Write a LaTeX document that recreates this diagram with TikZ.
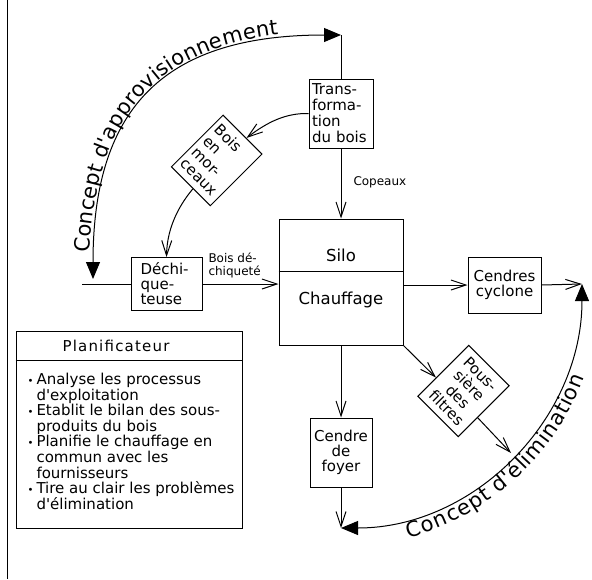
\documentclass[tikz,border=0pt]{standalone}
\usepackage{fontspec}
\setmainfont{DejaVu Sans}[Ligatures=TeXOff]
\usetikzlibrary{arrows.meta,decorations.text}
\newcommand\myfs[2]{\fontsize{#1}{#2}\selectfont}
\newcommand\mybul{\makebox[9pt][l]{\fontsize{10}{10}\selectfont •}}
\begin{document}
\begin{tikzpicture}[x=1pt,y=-1pt,line width=1pt,
  box/.style={draw,rectangle,inner sep=0pt},
  open/.style={-{Straight Barb[length=15pt,width=10pt]}},
  bothfill/.style={{Triangle[length=17pt,width=14pt]}-{Triangle[length=17pt,width=14pt]}},
  diam/.style={box,rotate=-45,font=\myfs{15}{16}},
]
\useasboundingbox (0,0) rectangle (592,579);
\draw (7,0) -- (7,579);

% boxes
\node[box,font=\myfs{15}{16},align=left,text width=58pt,minimum width=64pt,minimum height=69pt] (trans) at (341,113.5) {Trans-\\forma-\\tion\\du bois};
\node[box,minimum width=124pt,minimum height=126pt] (silo) at (341,282) {};
\node[font=\myfs{16.5}{18}] (silot) at (341,255.5) {Silo};
\node[font=\myfs{16.5}{18}] (chauf) at (341,300) {Chauffage};
\draw ([yshift=-53pt]silo.north west) -- ([yshift=-53pt]silo.north east);
\node[box,font=\myfs{15}{14.5},align=center,minimum width=73pt,minimum height=56pt] (cyc) at (504.5,285) {Cendres\\cyclone};
\node[box,font=\myfs{15}{15},align=center,minimum width=62pt,minimum height=69pt] (foyer) at (341,452.5) {Cendre\\de\\foyer};
\node[box,font=\myfs{15}{15},align=left,text width=52pt,minimum width=71pt,minimum height=53pt] (dech) at (166.5,284) {Déchi-\\que-\\teuse};
\node[diam,align=left,text width=47pt,minimum width=55pt,minimum height=73pt] (bois) at (216.7,160.4) {Bois\\en\\mor-\\ceaux};
\node[diam,align=center,text width=46pt,minimum width=57pt,minimum height=72pt] (pous) at (463.5,391) {Pous-\\sière\\des\\filtres};

% labels
\node[font=\myfs{12}{13},anchor=west,inner sep=0pt] (cop) at (353,182) {Copeaux};
\node[font=\myfs{12}{13.5},align=left,anchor=north west,inner sep=0pt] (bdl) at (208,252) {Bois dé-\\chiqueté};

% planificateur
\node[box,minimum width=226pt,minimum height=197pt] (plan) at (129,429.5) {};
\draw ([yshift=-30pt]plan.north west) -- ([yshift=-30pt]plan.north east);
\node[font=\myfs{15}{16}\addfontfeature{LetterSpace=8}] (plant) at (116,346) {Planificateur};
\node[font=\myfs{15}{15.6},align=left,anchor=north west,inner sep=0pt] (items) at (27,372.6) {%
\mybul Analyse les processus\\
\hspace*{9pt}d'exploitation\\
\mybul Etablit le bilan des sous-\\
\hspace*{9pt}produits du bois\\
\mybul Planifie le chauffage en\\
\hspace*{9pt}commun avec les\\
\hspace*{9pt}fournisseurs\\
\mybul Tire au clair les problèmes\\
\hspace*{9pt}d'élimination};

% coordinates
\coordinate (tA) at (341,35);
\coordinate (aL) at (93,279);
\coordinate (inL) at (82,284);
\coordinate (eR) at (582,284);
\coordinate (eL) at (341,528);
\coordinate (eP) at (511,453);

% connectors
\draw (trans.north) -- (tA);
\draw[bothfill] (aL) .. controls (93,105) and (167,35) .. (tA);
\path[decorate,decoration={text along path,text={|\myfs{21}{21}|Concept d'approvisionnement},raise=4pt,text align={left indent=26pt}}] (aL) .. controls (93,105) and (167,35) .. (tA);
\draw[open] (trans.south) -- (silo.north);
\draw (inL) -- (dech.west);
\draw[open] (dech.east) -- (dech.east -| silo.west);
\draw[open] (cyc.west -| silo.east) -- (cyc.west);
\draw[open] (cyc.east) -- (eR);
\draw[bothfill] (eL) .. controls (475,528) and (582,418) .. (eR);
\path[decorate,decoration={text along path,text={|\myfs{21}{21}|Concept d'élimination},raise=-19pt,text align={left indent=63pt}}] (eL) .. controls (475,528) and (582,418) .. (eR);
\draw[open] (silo.south) -- (foyer.north);
\draw[open] (foyer.south) -- (eL);
\draw[open] (silo.south east) -- (pous.199);
\draw[open] (pous.343) -- (eP);
\draw[open] (trans.west) .. controls (285,113) and (267,122.5) .. (bois);
\draw[open] (bois) .. controls (181.6,202.3) and (167,225) .. (dech.north);
\end{tikzpicture}
\end{document}
